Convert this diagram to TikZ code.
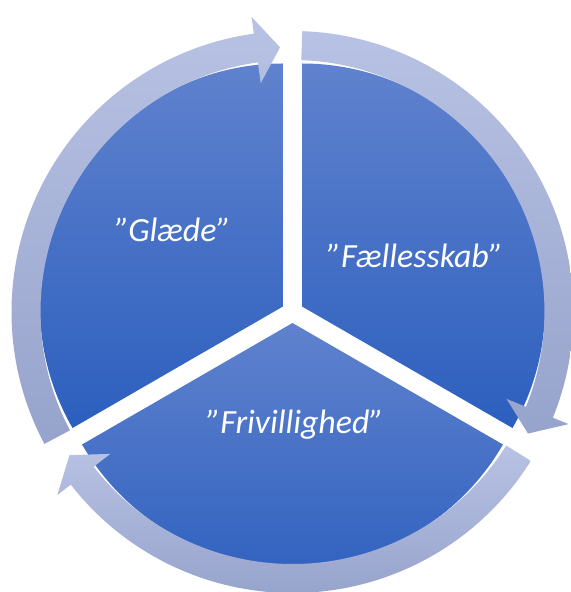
\documentclass[tikz,border=0pt]{standalone}
\usepackage{fontspec}
\setmainfont{Carlito}
\usepackage{tikz}
\usetikzlibrary{calc}
\definecolor{sectortop}{RGB}{96,130,206}
\definecolor{sectorbot}{RGB}{44,95,190}
\definecolor{ringtop}{RGB}{184,194,228}
\definecolor{ringbot}{RGB}{150,163,203}

\begin{document}
\begin{tikzpicture}[
        x=1bp, y=1bp,
        sector/.style={top color=sectortop, bottom color=sectorbot, draw=none},
        ringarrow/.style={top color=ringtop, bottom color=ringbot, draw=none},
        every node/.style={text=white, inner sep=0pt, anchor=base, font=\itshape\fontsize{34}{40}\selectfont}
    ]
    \useasboundingbox (-292.5,-280) rectangle (278.5,312);

    % three sectors, each pushed out along its middle
    \foreach \a in {90, -30, 210} {
        \shade[sector] (\a+60:11) -- ++(\a:243) arc[start angle=\a, end angle=\a+120, radius=243] -- cycle;
    }

    % arrows round the circle, clockwise
    \foreach \s in {88, -32, 208} {
        \pgfmathsetmacro{\b}{\s-110.1}
        \pgfmathsetmacro{\t}{\s-115.3}
        \shade[ringarrow] (\s:281) arc[start angle=\s, end angle=\b, radius=281]
            -- (\b:298) -- (\t:265) -- (\b:231) -- (\b:252)
            arc[start angle=\b, end angle=\s, radius=252] -- cycle;
    }

    \node (glaede) at (-119.5,70) {”Glæde”};
    \node (faelles) at (122.5,44) {”Fællesskab”};
    \node (frivillighed) at (2.5,-121) {”Frivillighed”};
\end{tikzpicture}
\end{document}
